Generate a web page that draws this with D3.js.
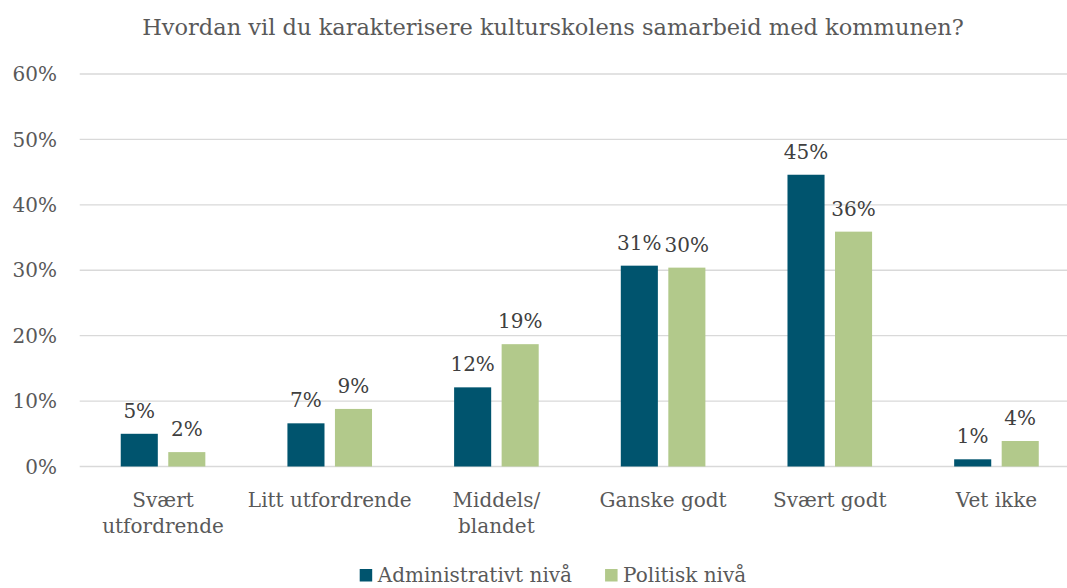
<!DOCTYPE html>
<html>
<head>
<meta charset="utf-8">
<script src="https://cdn.jsdelivr.net/npm/d3@7"></script>
<style>
  html, body { margin: 0; padding: 0; background: #fff; overflow: hidden; }
  svg { display: block; font-family: "DejaVu Serif", serif; }
</style>
</head>
<body>
<svg id="chart" width="1067" height="588"></svg>
<script>
// Survey answers: share of respondents per answer, two levels of cooperation
const categories = ["Svært\nutfordrende", "Litt utfordrende", "Middels/\nblandet", "Ganske godt", "Svært godt", "Vet ikke"];
const seriesNames = ["Administrativt nivå", "Politisk nivå"];
const administrativt = [0.050, 0.066, 0.121, 0.307, 0.446, 0.011];
const politisk = [0.022, 0.088, 0.187, 0.304, 0.359, 0.039];
const yTicks = [0, 0.1, 0.2, 0.3, 0.4, 0.5, 0.6];
const title = "Hvordan vil du karakterisere kulturskolens samarbeid med kommunen?";

const colors = ["#00546E", "#B2C98B"];
const series = [administrativt, politisk];

const svg = d3.select("#chart");
const labelSize = "20px";

const x0 = d3.scaleBand().domain(categories).range([79.7, 1079.8]).paddingInner(0.4925).paddingOuter(0.2462);
const x1 = d3.scaleBand().domain(seriesNames).range([0, x0.bandwidth()]).paddingInner(0.22);
const y = d3.scaleLinear().domain([0, 0.6]).range([466.5, 74]);

// Title
svg.append("text")
  .attr("x", 553).attr("y", 35)
  .attr("text-anchor", "middle")
  .attr("fill", "#595959")
  .style("font-size", "22.5px")
  .text(title);

// Horizontal gridlines
svg.append("g").selectAll("line").data(yTicks).join("line")
  .attr("x1", 79.7).attr("x2", 1080)
  .attr("y1", d => y(d)).attr("y2", d => y(d))
  .attr("stroke", "#D9D9D9").attr("stroke-width", 1.4);

// Y axis labels
const fmt = d3.format(".0%");
svg.append("g").selectAll("text").data(yTicks).join("text")
  .attr("x", 57).attr("y", d => y(d))
  .attr("dy", "0.36em")
  .attr("text-anchor", "end")
  .attr("fill", "#595959")
  .style("font-size", labelSize)
  .text(d => fmt(d));

// Bars
const groups = svg.append("g").selectAll("g").data(categories).join("g")
  .attr("transform", d => `translate(${x0(d)},0)`);

groups.selectAll("rect")
  .data((d, i) => seriesNames.map((s, k) => ({ s, v: series[k][i], k })))
  .join("rect")
  .attr("x", d => x1(d.s))
  .attr("width", x1.bandwidth())
  .attr("y", d => y(d.v))
  .attr("height", d => y(0) - y(d.v))
  .attr("fill", d => colors[d.k]);

// Value labels
groups.selectAll("text.val")
  .data((d, i) => seriesNames.map((s, k) => ({ s, v: series[k][i], k })))
  .join("text")
  .attr("class", "val")
  .attr("x", d => x1(d.s) + x1.bandwidth() / 2)
  .attr("y", d => y(d.v) - 16)
  .attr("text-anchor", "middle")
  .attr("fill", "#404040")
  .style("font-size", labelSize)
  .text(d => fmt(d.v));

// Category labels (may span two lines)
const cat = svg.append("g").selectAll("text").data(categories).join("text")
  .attr("x", d => x0(d) + x0.bandwidth() / 2)
  .attr("y", 506.5)
  .attr("text-anchor", "middle")
  .attr("fill", "#595959")
  .style("font-size", labelSize);
cat.selectAll("tspan").data(d => d.split("\n")).join("tspan")
  .attr("x", function () { return this.parentNode.getAttribute("x"); })
  .attr("dy", (d, i) => i === 0 ? 0 : 26.5)
  .text(d => d);

// Legend
const legend = svg.append("g");
let lx = 0;
const items = legend.selectAll("g").data(seriesNames).join("g");
items.append("rect")
  .attr("y", 569).attr("width", 12.5).attr("height", 12.5)
  .attr("fill", (d, i) => colors[i]);
items.append("text")
  .attr("x", 18).attr("y", 582)
  .attr("fill", "#595959")
  .style("font-size", labelSize)
  .text(d => d);
items.each(function () {
  d3.select(this).attr("transform", `translate(${lx},0)`);
  lx += this.getBBox().width + 33;
});
lx -= 33;
legend.attr("transform", `translate(${553 - lx / 2},0)`);
</script>
</body>
</html>
